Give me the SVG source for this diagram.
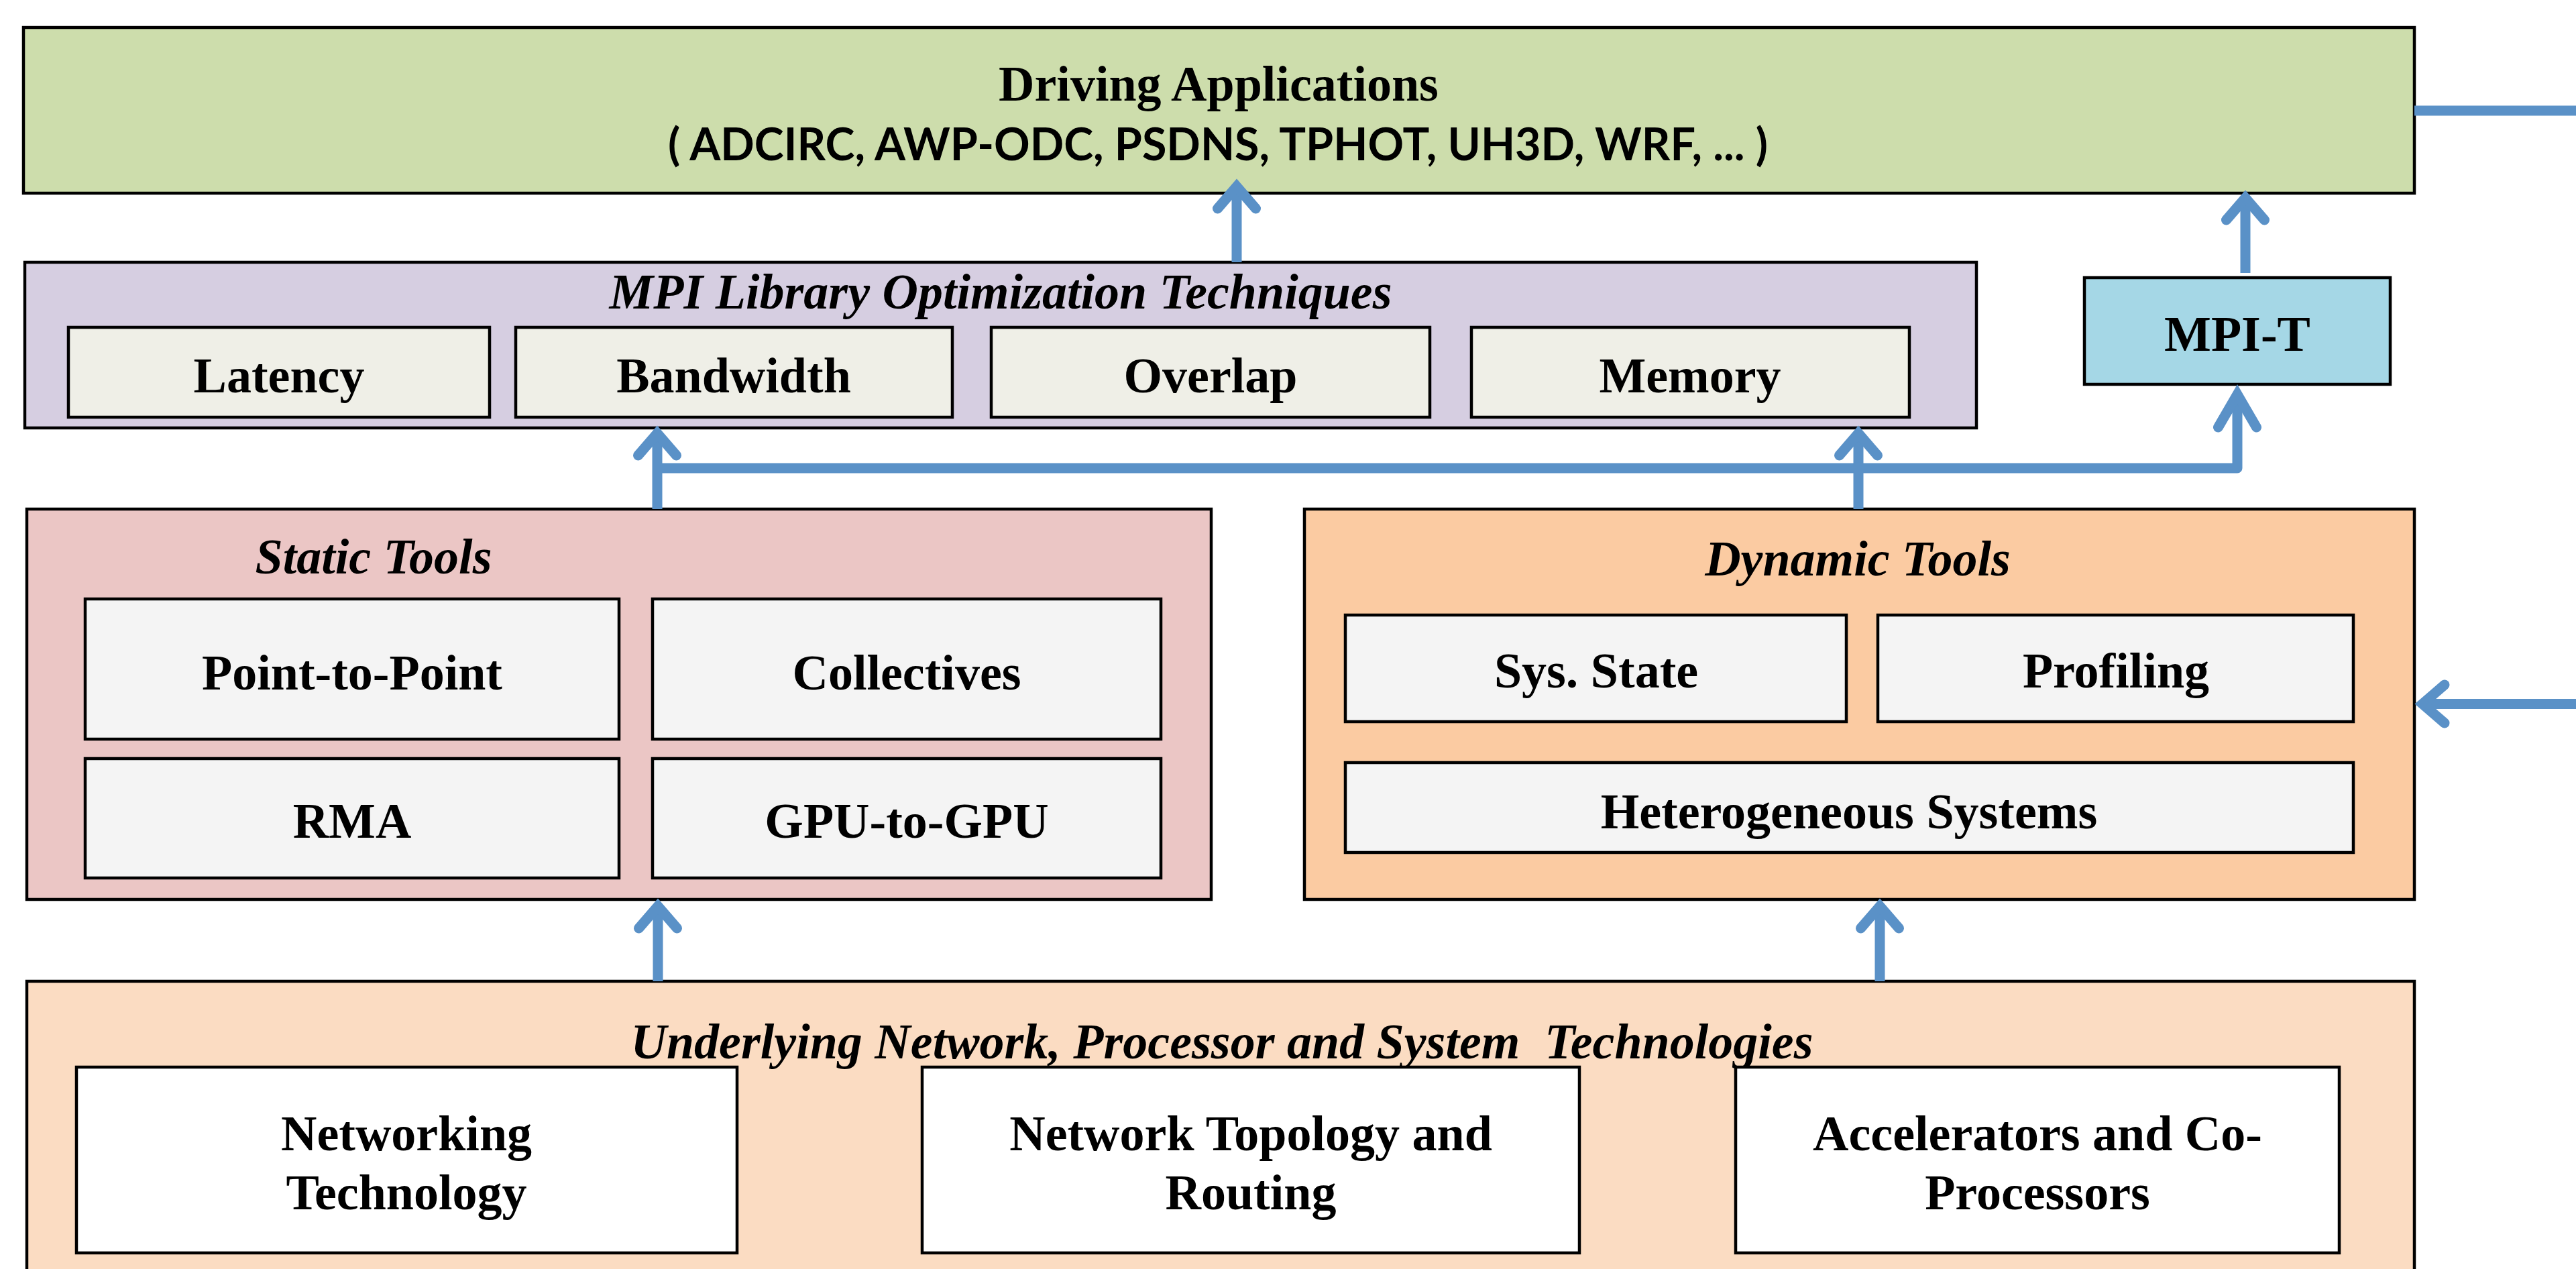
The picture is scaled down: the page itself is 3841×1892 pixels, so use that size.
<svg xmlns="http://www.w3.org/2000/svg" width="3841" height="1892" viewBox="0 0 3841 1892">
<style>
  .box{stroke:#000;stroke-width:4.5}
  .t{font-family:"Liberation Serif","Times New Roman",serif;font-weight:bold;font-size:74px;text-anchor:middle;fill:#000}
  .ti{font-family:"Liberation Serif","Times New Roman",serif;font-weight:bold;font-style:italic;font-size:74px;text-anchor:middle;fill:#000}
  .cal{font-family:Lato,"Open Sans",sans-serif;font-weight:bold;font-size:66px;text-anchor:middle;fill:#000}
  .conn{fill:none;stroke:#5A91C7;stroke-width:15;stroke-linejoin:round}
  .ah{fill:none;stroke:#5A91C7;stroke-width:15;stroke-linecap:round;stroke-linejoin:miter}
</style>
<defs>
  <marker id="arrow" markerUnits="userSpaceOnUse" orient="auto" refX="0" refY="0" markerWidth="1" markerHeight="1" overflow="visible">
    <path class="ah" d="M -33 -28.5 L 0 0 L -33 28.5"/>
  </marker>
  <marker id="arrowLong" markerUnits="userSpaceOnUse" orient="auto" refX="0" refY="0" markerWidth="1" markerHeight="1" overflow="visible">
    <path class="ah" d="M -49 -28.5 L 0 0 L -49 28.5"/>
  </marker>
</defs>
<rect x="0" y="0" width="3841" height="1892" fill="#fff"/>

<g id="driving-applications">
  <rect class="box" x="35" y="41" width="3565" height="247" fill="#CDDDAC"/>
  <text class="t" x="1817" y="150">Driving Applications</text>
  <text class="cal" x="1816" y="239" textLength="1640" lengthAdjust="spacingAndGlyphs">( ADCIRC, AWP-ODC, PSDNS, TPHOT, UH3D, WRF, ... )</text>
</g>

<g id="mpi-library">
  <rect class="box" x="37" y="391" width="2910" height="247" fill="#D6CEE1"/>
  <text class="ti" x="1492" y="460">MPI Library Optimization Techniques</text>
  <g id="latency">
    <rect class="box" x="102" y="488" width="628" height="134" fill="#EFEFE7"/>
    <text class="t" x="416" y="585">Latency</text>
  </g>
  <g id="bandwidth">
    <rect class="box" x="769" y="488" width="651" height="134" fill="#EFEFE7"/>
    <text class="t" x="1094" y="585">Bandwidth</text>
  </g>
  <g id="overlap">
    <rect class="box" x="1478" y="488" width="654" height="134" fill="#EFEFE7"/>
    <text class="t" x="1805" y="585">Overlap</text>
  </g>
  <g id="memory">
    <rect class="box" x="2194" y="488" width="653" height="134" fill="#EFEFE7"/>
    <text class="t" x="2520" y="585">Memory</text>
  </g>
</g>

<g id="mpi-t">
  <rect class="box" x="3108" y="414" width="456" height="159" fill="#A5D7E6"/>
  <text class="t" x="3336" y="523">MPI-T</text>
</g>

<g id="static-tools">
  <rect class="box" x="40" y="759" width="1766" height="582" fill="#EBC6C5"/>
  <text class="ti" x="557" y="855">Static Tools</text>
  <g id="point-to-point">
    <rect class="box" x="127" y="893" width="796" height="209" fill="#F4F4F4"/>
    <text class="t" x="525" y="1028">Point-to-Point</text>
  </g>
  <g id="collectives">
    <rect class="box" x="973" y="893" width="758" height="209" fill="#F4F4F4"/>
    <text class="t" x="1352" y="1028">Collectives</text>
  </g>
  <g id="rma">
    <rect class="box" x="127" y="1131" width="796" height="178" fill="#F4F4F4"/>
    <text class="t" x="525" y="1249">RMA</text>
  </g>
  <g id="gpu-to-gpu">
    <rect class="box" x="973" y="1131" width="758" height="178" fill="#F4F4F4"/>
    <text class="t" x="1352" y="1249">GPU-to-GPU</text>
  </g>
</g>

<g id="dynamic-tools">
  <rect class="box" x="1945" y="759" width="1655" height="582" fill="#FBCBA2"/>
  <text class="ti" x="2770" y="858">Dynamic Tools</text>
  <g id="sys-state">
    <rect class="box" x="2006" y="917" width="747" height="159" fill="#F4F4F4"/>
    <text class="t" x="2380" y="1025">Sys. State</text>
  </g>
  <g id="profiling">
    <rect class="box" x="2800" y="917" width="709" height="159" fill="#F4F4F4"/>
    <text class="t" x="3155" y="1025">Profiling</text>
  </g>
  <g id="heterogeneous-systems">
    <rect class="box" x="2006" y="1137" width="1503" height="134" fill="#F4F4F4"/>
    <text class="t" x="2757" y="1235">Heterogeneous Systems</text>
  </g>
</g>

<g id="underlying-technologies">
  <rect class="box" x="40" y="1463" width="3560" height="500" fill="#FBDCC2"/>
  <text class="ti" x="1822" y="1578" xml:space="preserve">Underlying Network, Processor and System  Technologies</text>
  <g id="networking-technology">
    <rect class="box" x="114" y="1591" width="985" height="277" fill="#FFFFFF"/>
    <text class="t" x="606" y="1715">Networking</text>
    <text class="t" x="606" y="1803">Technology</text>
  </g>
  <g id="network-topology">
    <rect class="box" x="1375" y="1591" width="980" height="277" fill="#FFFFFF"/>
    <text class="t" x="1865" y="1715">Network Topology and</text>
    <text class="t" x="1865" y="1803">Routing</text>
  </g>
  <g id="accelerators">
    <rect class="box" x="2588" y="1591" width="900" height="277" fill="#FFFFFF"/>
    <text class="t" x="3038" y="1715">Accelerators and Co-</text>
    <text class="t" x="3038" y="1803">Processors</text>
  </g>
</g>

<g id="connectors">
  <path class="conn" d="M 1844 391 V 278" marker-end="url(#arrow)"/>
  <path class="conn" d="M 3348 407 V 295" marker-end="url(#arrow)"/>
  <path class="conn" d="M 980 759 V 646" marker-end="url(#arrow)"/>
  <path class="conn" d="M 980 698 H 3336 V 588" marker-end="url(#arrowLong)"/>
  <path class="conn" d="M 2771 759 V 646" marker-end="url(#arrow)"/>
  <path class="conn" d="M 981 1463 V 1351" marker-end="url(#arrow)"/>
  <path class="conn" d="M 2803 1463 V 1351" marker-end="url(#arrow)"/>
  <path class="conn" d="M 3841 1049.5 H 3612" marker-end="url(#arrow)"/>
  <path class="conn" d="M 3600 165 H 3841"/>
</g>
</svg>
